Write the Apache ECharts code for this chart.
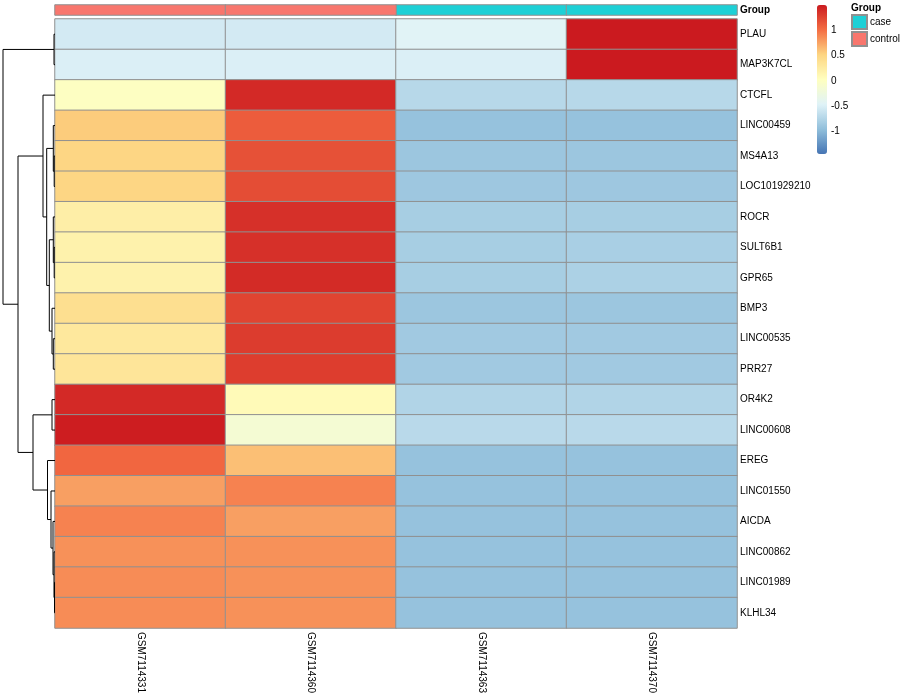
<!DOCTYPE html>
<html>
<head>
<meta charset="utf-8">
<script src="https://cdn.jsdelivr.net/npm/echarts@6/dist/echarts.min.js"></script>
<style>html,body{margin:0;padding:0;background:#fff}#c{width:900px;height:700px}</style>
</head>
<body>
<div id="c"></div>
<script>
const rowNames = ['PLAU','MAP3K7CL','CTCFL','LINC00459','MS4A13','LOC101929210','ROCR','SULT6B1','GPR65','BMP3','LINC00535','PRR27','OR4K2','LINC00608','EREG','LINC01550','AICDA','LINC00862','LINC01989','KLHL34'];
const colNames = ['GSM7114331','GSM7114360','GSM7114363','GSM7114370'];
const colGroups = ['control','control','case','case'];
const groupNames = ['case','control'];
const groupColors = ['#1DD0D6','#F8766D'];
// row-scaled values, one array per column
const valGSM7114331 = [-0.55,-0.5,0.0,0.56,0.5,0.5,0.22,0.18,0.18,0.4,0.3,0.33,1.41,1.48,1.05,0.77,0.91,0.84,0.86,0.86];
const valGSM7114360 = [-0.55,-0.5,1.41,1.11,1.175,1.2,1.37,1.37,1.4,1.25,1.3,1.29,0.08,-0.15,0.62,0.91,0.77,0.84,0.84,0.84];
const valGSM7114363 = [-0.45,-0.5,-0.72,-0.93,-0.89,-0.88,-0.82,-0.82,-0.82,-0.89,-0.86,-0.86,-0.76,-0.71,-0.93,-0.93,-0.93,-0.93,-0.93,-0.93];
const valGSM7114370 = [1.5,1.5,-0.72,-0.93,-0.89,-0.88,-0.82,-0.81,-0.79,-0.89,-0.86,-0.86,-0.76,-0.71,-0.93,-0.93,-0.93,-0.93,-0.93,-0.93];
const colorbarTicks = [-1,-0.5,0,0.5,1];
const colorMin = -1.45, colorMax = 1.5;
const palette = ['#4575B4','#91BFDB','#E0F3F8','#FFFFBF','#FDD582','#F46D43','#CB1A1F'];
// row dendrogram (hclust-style merges: negative = leaf number in display order, positive = earlier merge)
const dendroMerge = [
  [-1,-2,0.1],
  [-19,-20,0.05],
  [-18,2,0.1],
  [-17,3,0.2],
  [-16,4,0.4],
  [-15,5,0.75],
  [-13,-14,0.3],
  [7,6,2.2],
  [-5,-6,0.08],
  [-4,9,0.17],
  [-8,-9,0.08],
  [-7,11,0.17],
  [-11,-12,0.17],
  [-10,13,0.3],
  [12,14,0.57],
  [10,15,0.83],
  [-3,16,1.2],
  [17,8,3.7],
  [1,18,5.2]
];

const cols = [valGSM7114331,valGSM7114360,valGSM7114363,valGSM7114370];
const heatData = [];
cols.forEach((arr,ci)=>arr.forEach((v,ri)=>heatData.push([ci,ri,v])));

// dendrogram segments
const nodeInfo = [];
function info(k){ return k<0 ? {y:(-k-1)+0.5,h:0} : nodeInfo[k-1]; }
const dendroLines = [];
dendroMerge.forEach(m=>{
  const a=info(m[0]), b=info(m[1]), h=m[2];
  dendroLines.push({coords:[[a.h,a.y],[h,a.y],[h,b.y],[b.h,b.y]]});
  nodeInfo.push({y:(a.y+b.y)/2,h:h});
});
const rootH = dendroMerge[dendroMerge.length-1][2];

const FONT = '"Liberation Sans", Arial, Helvetica, sans-serif';
const annSeries = groupNames.map((g,gi)=>({
  name:g, type:'heatmap', xAxisIndex:1, yAxisIndex:1,
  data: colGroups.map((cg,ci)=>cg===g?[ci,0,1]:null).filter(d=>d),
  itemStyle:{color:groupColors[gi], borderColor:'#909090', borderWidth:1},
  emphasis:{disabled:true}
}));

const chart = echarts.init(document.getElementById('c'),null,{renderer:'canvas'});
chart.setOption({
  animation:false,
  backgroundColor:'#fff',
  textStyle:{fontFamily:FONT},
  title:{text:'Group',left:851,top:3,padding:0,textStyle:{fontSize:10,fontWeight:'bold',color:'#000',fontFamily:FONT}},
  legend:{
    data:groupNames, orient:'vertical', left:851, top:14, padding:0,
    itemWidth:15, itemHeight:14, itemGap:1, icon:'rect',
    textStyle:{fontSize:10,color:'#000',fontFamily:FONT, padding:[0,0,0,-2]},
    selectedMode:false
  },
  grid:[
    {left:55, top:19, width:682, height:609},
    {left:55, top:5, width:682, height:10},
    {left:3, top:19, width:52, height:609},
    {left:826, top:5, width:1, height:149}
  ],
  xAxis:[
    {type:'category', gridIndex:0, data:colNames, position:'bottom',
     axisLine:{show:false}, axisTick:{show:false}, splitLine:{show:false},
     axisLabel:{rotate:-90, margin:4, fontSize:10, color:'#000', fontFamily:FONT}},
    {type:'category', gridIndex:1, data:colNames, show:false},
    {type:'value', gridIndex:2, min:0, max:rootH, inverse:true, show:false},
    {type:'value', gridIndex:3, show:false}
  ],
  yAxis:[
    {type:'category', gridIndex:0, data:rowNames, inverse:true, position:'right',
     axisLine:{show:false}, axisTick:{show:false}, splitLine:{show:false},
     axisLabel:{margin:3, fontSize:10, color:'#000', fontFamily:FONT}},
    {type:'category', gridIndex:1, data:['Group'], position:'right',
     axisLine:{show:false}, axisTick:{show:false},
     axisLabel:{margin:3, fontSize:10, fontWeight:'bold', color:'#000', fontFamily:FONT}},
    {type:'value', gridIndex:2, min:0, max:rowNames.length, inverse:true, show:false},
    {type:'value', gridIndex:3, min:colorMin, max:colorMax, position:'right',
     axisLine:{show:false}, splitLine:{show:false},
     axisTick:{show:false},
     axisLabel:{customValues:colorbarTicks, margin:4, fontSize:10, color:'#000', fontFamily:FONT}}
  ],
  visualMap:{
    type:'continuous', seriesIndex:0, min:colorMin, max:colorMax,
    left:817, top:5, itemWidth:10, itemHeight:149, padding:0,
    calculable:false, showLabel:false, text:null,
    inRange:{color:palette}
  },
  series:[
    {type:'heatmap', xAxisIndex:0, yAxisIndex:0, data:heatData,
     itemStyle:{borderColor:'#909090', borderWidth:1}, emphasis:{disabled:true}},
    ...annSeries,
    {type:'lines', coordinateSystem:'cartesian2d', xAxisIndex:2, yAxisIndex:2,
     polyline:true, silent:true, data:dendroLines,
     lineStyle:{color:'#000', width:1, opacity:1}}
  ]
});
</script>
</body>
</html>
